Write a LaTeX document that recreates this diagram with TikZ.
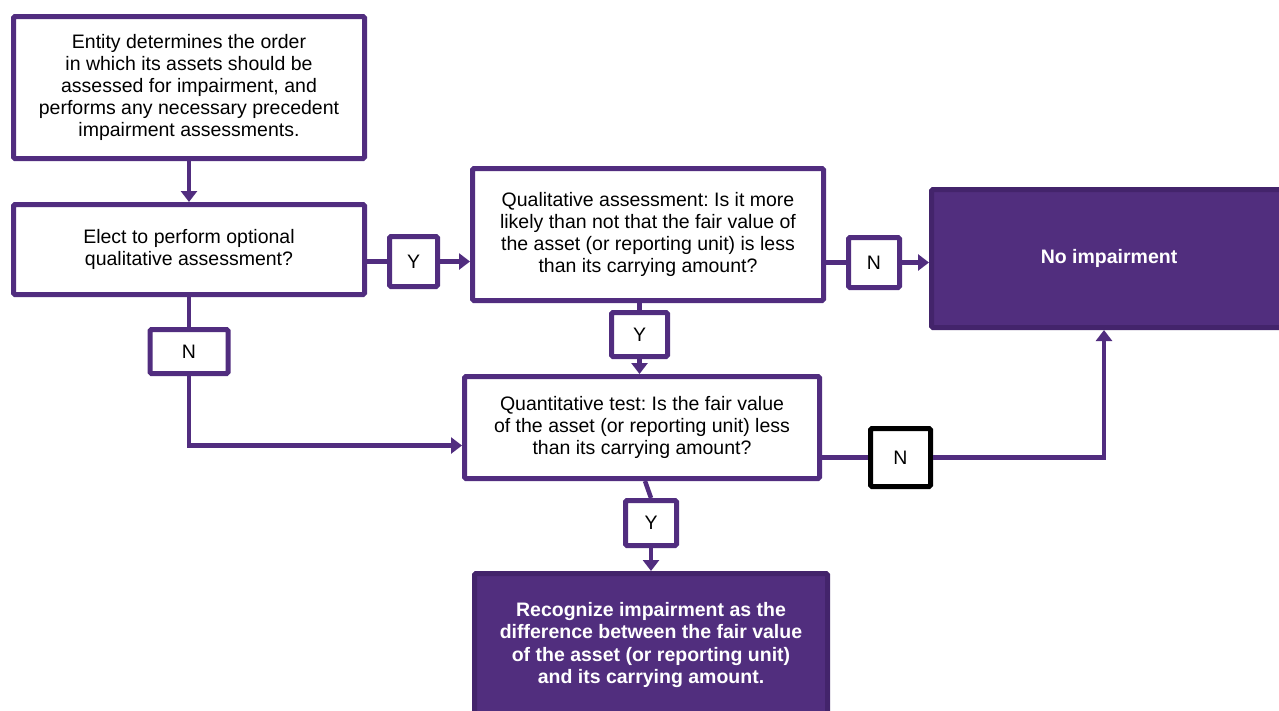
\documentclass[tikz,border=0pt]{standalone}
\usepackage{fontspec}
\setmainfont{Liberation Sans}
\usetikzlibrary{arrows.meta}
\definecolor{plum}{HTML}{512D7F}
\definecolor{plumfill}{HTML}{512E7E}
\definecolor{plumedge}{HTML}{43246B}
\frenchspacing
\tikzset{
  every node/.style={font=\fontsize{19.5}{22.2}\selectfont, inner sep=0pt, align=center},
  stepbox/.style={draw=plum, line width=5pt, fill=white, rounded corners=1.5pt, text=black},
  endbox/.style={draw=plumedge, line width=5pt, fill=plumfill, rounded corners=1.5pt, text=white, font=\fontsize{19.5}{22.6}\selectfont\bfseries},
  tag/.style={draw=plum, line width=5pt, fill=white, rounded corners=1.5pt, text=black},
  conn/.style={draw=plum, line width=4.5pt},
  arr/.style={conn, -{Triangle[length=11pt,width=16pt]}},
}
\begin{document}
\begin{tikzpicture}[x=1pt,y=-1pt]
\useasboundingbox (0,0) rectangle (1279,710);
\clip (0,0) rectangle (1279,710);

% process boxes
\node[stepbox, minimum width=351pt, minimum height=142pt] (order) at (189,87.5)
  {Entity determines the order\\in which its assets should be\\assessed for impairment, and\\performs any necessary precedent\\impairment assessments.};
\node[stepbox, minimum width=351pt, minimum height=90pt] (elect) at (189,249.5)
  {Elect to perform optional\\qualitative assessment?};
\node[stepbox, minimum width=351pt, minimum height=132pt] (qual) at (648,234.5)
  {Qualitative assessment: Is it more\\likely than not that the fair value of\\the asset (or reporting unit) is less\\than its carrying amount?};
\node[stepbox, minimum width=355pt, minimum height=102pt] (quant) at (642,427.5)
  {Quantitative test: Is the fair value\\of the asset (or reporting unit) less\\than its carrying amount?};

% outcomes
\node[endbox, minimum width=355pt, minimum height=138pt] (noimp) at (1109,258.5) {No impairment};
\node[endbox, minimum width=353pt, minimum height=143pt] (recog) at (651,645)
  {Recognize impairment as the\\difference between the fair value\\of the asset (or reporting unit)\\and its carrying amount.};

% decision tags
\node[tag, minimum width=48pt, minimum height=50pt] (y1) at (413.5,261.5) {Y};
\node[tag, minimum width=51pt, minimum height=50pt] (n1) at (874,262.5) {N};
\node[tag, minimum width=56pt, minimum height=44pt] (y2) at (639.5,334.5) {Y};
\node[tag, minimum width=78pt, minimum height=44pt] (n2) at (189,351.5) {N};
\node[tag, draw=black, minimum width=60pt, minimum height=58pt] (n3) at (900.5,457.5) {N};
\node[tag, minimum width=51pt, minimum height=45pt] (y3) at (651,523) {Y};

% connectors
\draw[arr] (order.south) -- (elect.north);
\draw[conn] (y1.west -| elect.east) -- (y1.west);
\draw[arr] (y1.east) -- (y1.east -| qual.west);
\draw[conn] (n1.west -| qual.east) -- (n1.west);
\draw[arr] (n1.east) -- (n1.east -| noimp.west);
\draw[conn] (y2.north |- qual.south) -- (y2.north);
\draw[arr] (y2.south) -- (y2.south |- quant.north);
\draw[conn] (n2.north |- elect.south) -- (n2.north);
\draw[arr] (n2.south) |- ([yshift=-18pt]quant.west);
\draw[conn] (n3.west -| quant.east) -- (n3.west);
\draw[arr] (n3.east) -| ([xshift=-5pt]noimp.south);
\draw[conn] ([xshift=3pt]quant.south) -- (y3.north);
\draw[arr] (y3.south) -- (recog.north);
\end{tikzpicture}
\end{document}
